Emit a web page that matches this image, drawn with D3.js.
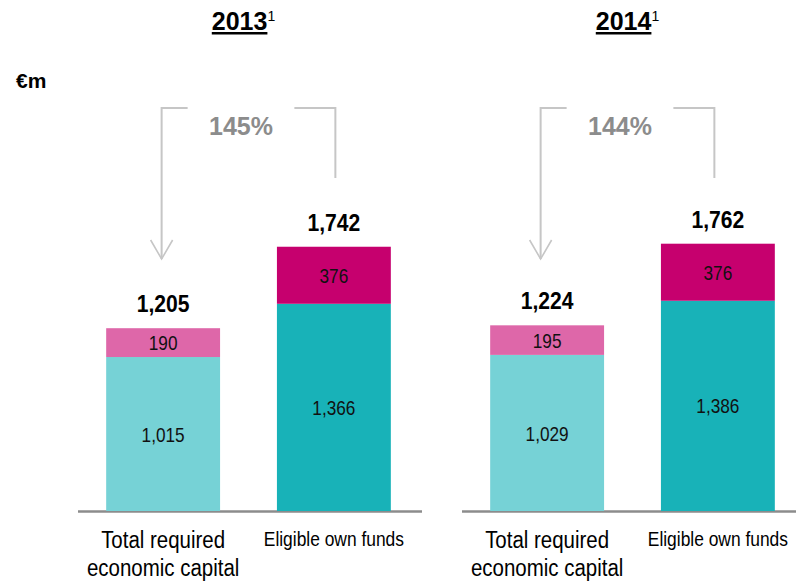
<!DOCTYPE html>
<html>
<head>
<meta charset="utf-8">
<script src="https://cdn.jsdelivr.net/npm/d3@7"></script>
<style>
  html, body { margin: 0; padding: 0; background: #fff; }
  svg { display: block; }
</style>
</head>
<body>
<div id="chart"></div>
<script>
// Economic capital vs eligible own funds, €m
const years = ["2013", "2014"];
const categories = ["Total required economic capital", "Eligible own funds"];
const categoryLines = [["Total required", "economic capital"], ["Eligible own funds"]];
// lower stack segment per year: [required capital, own funds]
const baseValues = [[1015, 1366], [1029, 1386]];
// upper stack segment per year
const topValues = [[190, 376], [195, 376]];

const baseColors = ["#76D2D6", "#18B2B8"];
const topColors = ["#DE67A9", "#C6006E"];

const W = 796, H = 582;
const font = "'Liberation Sans', Arial, sans-serif";
const fmt = d3.format(",");

const svg = d3.select("#chart").append("svg")
  .attr("width", W).attr("height", H);

// horizontally condensed text, drawn around (x, y)
function narrowText(parent, x, y, str, opts) {
  const g = parent.append("g")
    .attr("transform", `translate(${x},${y}) scale(${opts.sx || 0.82},1)`);
  return g.append("text")
    .attr("x", 0).attr("y", 0)
    .attr("dy", opts.dy || 0)
    .attr("text-anchor", "middle")
    .attr("font-family", font)
    .attr("font-size", opts.size)
    .attr("font-weight", opts.weight || "normal")
    .attr("fill", opts.fill || "#000")
    .text(str);
}

const baseline = 511;
const y = d3.scaleLinear().domain([0, 2000]).range([baseline, baseline - 303.4]);

const panelX = d3.scalePoint().domain(years).range([78, 462]);
const panelWidth = 344;
const bracketShift = [0, -5];

svg.append("text")
  .attr("x", 16).attr("y", 88)
  .attr("font-family", font).attr("font-weight", "bold").attr("font-size", 21)
  .attr("fill", "#000").text("€m");

years.forEach((yr, i) => {
  const x0 = panelX(yr);
  const x = d3.scaleBand().domain(categories)
    .range([x0, x0 + 341]).paddingInner(0.333).paddingOuter(0.165);
  const g = svg.append("g");
  const cx = c => x(c) + x.bandwidth() / 2;

  // baseline
  g.append("line")
    .attr("x1", x0).attr("x2", x0 + panelWidth)
    .attr("y1", baseline + 0.5).attr("y2", baseline + 0.5)
    .attr("stroke", "#8c8c8c").attr("stroke-width", 2.5);

  const rows = categories.map((c, j) => ({
    c, base: baseValues[i][j], top: topValues[i][j],
    total: baseValues[i][j] + topValues[i][j], j
  }));

  rows.forEach(d => {
    g.append("rect")
      .attr("x", x(d.c)).attr("width", x.bandwidth())
      .attr("y", y(d.base)).attr("height", y(0) - y(d.base))
      .attr("fill", baseColors[d.j]);
    g.append("rect")
      .attr("x", x(d.c)).attr("width", x.bandwidth())
      .attr("y", y(d.total)).attr("height", y(d.base) - y(d.total))
      .attr("fill", topColors[d.j]);

    narrowText(g, cx(d.c), (y(d.base) + y(0)) / 2, fmt(d.base),
      { size: 21, dy: "0.36em", fill: "#111" });
    narrowText(g, cx(d.c), (y(d.total) + y(d.base)) / 2, fmt(d.top),
      { size: 21, dy: "0.36em", fill: "#111" });
    narrowText(g, cx(d.c), y(d.total) - 16, fmt(d.total),
      { size: 24, weight: "bold", sx: 0.88 });

    // category labels
    const lines = categoryLines[d.j];
    lines.forEach((ln, k) => {
      narrowText(g, cx(d.c), (d.j === 0 ? 548 : 546) + k * 28, ln,
        d.j === 0 ? { size: 23, sx: 0.89 } : { size: 20, sx: 0.87 });
    });
  });

  // title with footnote marker
  const titleCx = (cx(categories[0]) + cx(categories[1])) / 2 - 5;
  const t = g.append("text")
    .attr("x", titleCx).attr("y", 30).attr("text-anchor", "middle")
    .attr("font-family", font).attr("fill", "#000");
  t.append("tspan").attr("font-weight", "bold").attr("font-size", 25)
    .attr("text-decoration", "underline").text(yr);
  t.append("tspan").attr("font-size", 14).attr("dy", -9).text("1");

  // coverage ratio bracket
  const lx = cx(categories[0]) - 1.5 + bracketShift[i];
  const rx = cx(categories[1]) + 1.5 + bracketShift[i];
  const topY = 108, tipY = 259, rightEnd = 178;
  const gapL = lx + 26, gapR = rx - 41;
  const stroke = "#c6c6c6";
  const br = g.append("g").attr("fill", "none").attr("stroke", stroke).attr("stroke-width", 2);
  br.append("path").attr("d", `M${lx},${tipY} L${lx},${topY} L${gapL},${topY}`);
  br.append("path").attr("d", `M${gapR},${topY} L${rx},${topY} L${rx},${rightEnd}`);
  br.append("path").attr("d", `M${lx - 11},${tipY - 19} L${lx},${tipY} L${lx + 11},${tipY - 19}`)
    .attr("stroke-width", 1.6);

  const ratio = Math.round(rows[1].total / rows[0].total * 100);
  g.append("text")
    .attr("x", (gapL + gapR) / 2).attr("y", 135).attr("text-anchor", "middle")
    .attr("font-family", font).attr("font-weight", "bold").attr("font-size", 25)
    .attr("fill", "#8c8c8c")
    .text(ratio + "%");
});
</script>
</body>
</html>
